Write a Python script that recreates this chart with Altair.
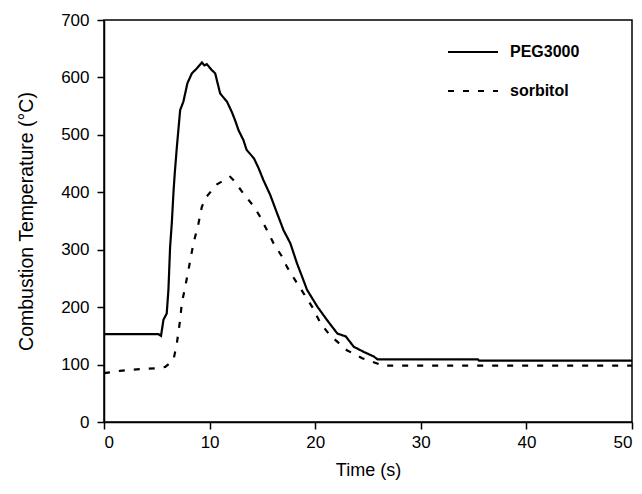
import altair as alt
import pandas as pd

peg_t = [0, 5.15, 5.4, 5.63, 5.94, 6.1, 6.26, 6.42, 6.58, 6.7, 6.9, 7.21, 7.52, 7.9, 8.32, 8.8,
         9.27, 9.5, 9.74, 10.2, 10.53, 11.0, 11.64, 12.1, 12.4, 12.74, 13.2, 13.5, 14.2, 14.64,
         15.1, 15.75, 16.4, 17.0, 17.65, 18.28, 18.76, 19.23, 20.2, 21.1, 22.1, 22.9, 23.65,
         24.6, 25.55, 25.9, 35.4, 35.5, 50]
peg_T = [153, 153, 150, 178, 189, 230, 305, 346, 400, 433, 479, 543, 558, 590, 607, 616,
         626, 621, 623, 613, 607, 572, 558, 540, 526, 508, 491, 474, 459, 442,
         421, 395, 363, 334, 311, 276, 253, 230, 201, 178, 154, 149, 131,
         122, 114, 109, 109, 107, 107]

sor_t = [0, 1.5, 3.4, 4.84, 5.8, 6.26, 6.58, 6.9, 7.21, 7.37, 7.7, 8.0, 8.47, 8.95, 9.27,
         9.74, 10.7, 11.95, 12.27, 13.2, 14.2, 14.8, 15.6, 16.06, 16.86, 17.33, 18.1, 18.9,
         19.7, 20.5, 21.4, 23.0, 24.45, 26.0, 26.3, 50]
sor_T = [85, 89, 92, 93.5, 96, 103, 108, 137, 178, 207, 236, 265, 311, 346, 375,
         393, 414, 427, 421, 398, 375, 357, 328, 311, 288, 270, 247, 224,
         201, 172, 151, 125, 111, 101, 98, 98]

series = ["PEG3000", "sorbitol"]
x_ticks = [0, 10, 20, 30, 40, 50]
y_ticks = [0, 100, 200, 300, 400, 500, 600, 700]

df = pd.concat([
    pd.DataFrame({"t": peg_t, "T": peg_T, "series": series[0], "o": range(len(peg_t))}),
    pd.DataFrame({"t": sor_t, "T": sor_T, "series": series[1], "o": range(len(sor_t))}),
])

FONT = "Liberation Sans"

chart = alt.Chart(df).mark_line(color="black", strokeWidth=2.2).encode(
    x=alt.X("t:Q", title="Time (s)",
            scale=alt.Scale(domain=[0, 50], nice=False),
            axis=alt.Axis(values=x_ticks, grid=False, tickSize=7, labelPadding=5,
                          titlePadding=11, titleFontSize=18, format="d")),
    y=alt.Y("T:Q", title="Combustion Temperature (°C)",
            scale=alt.Scale(domain=[0, 700], nice=False),
            axis=alt.Axis(values=y_ticks, grid=False, tickSize=7, labelPadding=8,
                          titlePadding=24, titleFontSize=19.5, format="d")),
    order="o:Q",
    strokeDash=alt.StrokeDash(
        "series:N", title=None,
        scale=alt.Scale(domain=series, range=[[1, 0], [6, 9]]),
        legend=alt.Legend(orient="none", legendX=341, legendY=24,
                          symbolType="M-1,0H9", symbolSize=100,
                          symbolStrokeWidth=2.2, symbolStrokeColor="black",
                          labelFontWeight="bold", labelFontSize=16, labelFont=FONT,
                          labelColor="black", rowPadding=23, labelOffset=49)),
).properties(
    width=528, height=402,
    padding={"left": 104, "top": 20, "right": 10, "bottom": 72},
    autosize=alt.AutoSizeParams(type="none"),
).configure_view(
    stroke="black", strokeWidth=1.5
).configure_axis(
    domainColor="black", tickColor="black", labelColor="black", titleColor="black",
    labelFont=FONT, titleFont=FONT, labelFontSize=17,
    titleFontWeight="normal", domainWidth=1.5, tickWidth=1.5
)

chart.save("out.html", embed_options={"renderer": "svg", "actions": False})
